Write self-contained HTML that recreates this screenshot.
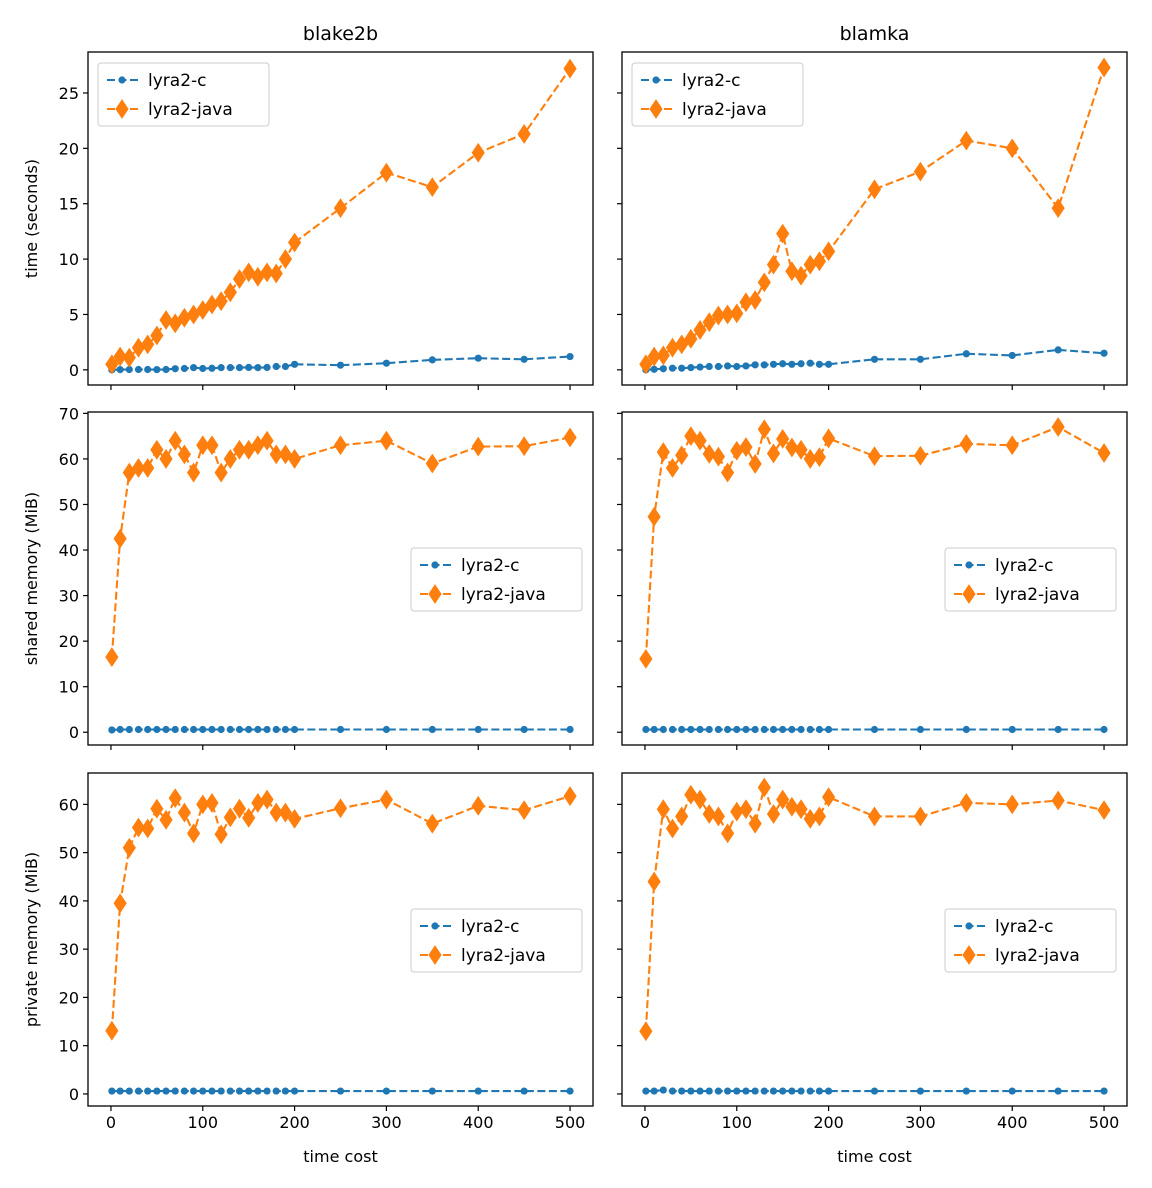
<!DOCTYPE html>
<html><head><meta charset="utf-8"><style>
body{margin:0;background:#fff}
svg{display:block;font-family:"DejaVu Sans","Liberation Sans",sans-serif}
</style></head><body>
<svg id="chart" width="1152" height="1188" viewBox="0 0 1152 1188" xmlns="http://www.w3.org/2000/svg"></svg>
<script>
const xs = [1,10,20,30,40,50,60,70,80,90,100,110,120,130,140,150,160,170,180,190,200,250,300,350,400,450,500];
const xTicks = [0,100,200,300,400,500];
const colTitles = ["blake2b","blamka"];
const rowLabels = ["time (seconds)","shared memory (MiB)","private memory (MiB)"];
const rowTicks = [[0,5,10,15,20,25],[0,10,20,30,40,50,60,70],[0,10,20,30,40,50,60]];
const rowRanges = [[-1.37,28.7],[-2.8,70.3],[-2.5,66.5]];
const timeBlakeC = [0,0.02,0.03,0.03,0.03,0.02,0.03,0.1,0.12,0.2,0.12,0.14,0.2,0.2,0.2,0.22,0.2,0.22,0.3,0.3,0.5,0.42,0.6,0.9,1.05,0.95,1.2];
const timeBlakeJ = [0.5,1.2,1.1,2.0,2.3,3.1,4.5,4.2,4.7,5.0,5.4,5.9,6.2,7.0,8.2,8.8,8.4,8.8,8.7,10.0,11.5,14.6,17.8,16.5,19.6,21.3,27.2];
const timeBlamC = [0,0.05,0.1,0.15,0.15,0.2,0.25,0.3,0.3,0.35,0.3,0.35,0.45,0.45,0.5,0.55,0.5,0.55,0.6,0.5,0.5,0.95,0.95,1.45,1.3,1.8,1.5];
const timeBlamJ = [0.5,1.2,1.3,2.0,2.3,2.8,3.6,4.3,4.9,5.0,5.1,6.1,6.3,7.9,9.5,12.3,8.9,8.5,9.5,9.8,10.7,16.3,17.9,20.7,20.0,14.6,27.3];
const shBlakeC = [0.5,0.6,0.6,0.6,0.6,0.6,0.6,0.6,0.6,0.6,0.6,0.6,0.6,0.6,0.6,0.6,0.6,0.6,0.6,0.6,0.6,0.6,0.6,0.6,0.6,0.6,0.6];
const shBlakeJ = [16.5,42.5,57,58,58,62,60,64,61,57,63,63,57,60,62,62,63,64,61,61,60,63,64,59,62.7,62.8,64.7];
const shBlamC = [0.6,0.6,0.6,0.6,0.6,0.6,0.6,0.6,0.6,0.6,0.6,0.6,0.6,0.6,0.6,0.6,0.6,0.6,0.6,0.6,0.6,0.6,0.6,0.6,0.6,0.6,0.6];
const shBlamJ = [16.1,47.3,61.5,58,60.8,65,64,61.1,60.5,57,61.8,62.6,58.9,66.5,61.2,64.4,62.5,62,60,60.4,64.5,60.6,60.7,63.3,63,67,61.3];
const prBlakeC = [0.6,0.6,0.6,0.6,0.6,0.6,0.6,0.6,0.6,0.6,0.6,0.6,0.6,0.6,0.6,0.6,0.6,0.6,0.6,0.6,0.6,0.6,0.6,0.6,0.6,0.6,0.6];
const prBlakeJ = [13.1,39.5,51,55.2,55,59.1,56.8,61.3,58.3,54,60,60.3,53.8,57.3,59.1,57.2,60.3,61,58.3,58.3,57,59.2,61,56,59.7,58.8,61.7];
const prBlamC = [0.6,0.6,0.8,0.6,0.6,0.6,0.6,0.6,0.6,0.6,0.6,0.6,0.6,0.6,0.6,0.6,0.6,0.6,0.6,0.6,0.6,0.6,0.6,0.6,0.6,0.6,0.6];
const prBlamJ = [13,44,59,55,57.5,62,61,58,57.5,54,58.5,59,56,63.5,58,61,59.5,59,57,57.5,61.5,57.5,57.5,60.3,60,60.8,58.8];

const panels = [
 [[timeBlakeC,timeBlakeJ],[timeBlamC,timeBlamJ]],
 [[shBlakeC,shBlakeJ],[shBlamC,shBlamJ]],
 [[prBlakeC,prBlakeJ],[prBlamC,prBlamJ]]
];
const colX=[88,622], W=505, rowY=[52,412,773], H=333;
const legendPos=[[10,11],[323,136],[323,136]];
const NS="http://www.w3.org/2000/svg";
const svg=document.getElementById('chart');
function mk(tag,attrs,parent,text){const e=document.createElementNS(NS,tag);for(const k in attrs)e.setAttribute(k,attrs[k]);if(text!==undefined)e.textContent=text;(parent||svg).appendChild(e);return e;}
const BLUE="#1f77b4",ORANGE="#ff7f0e";
function diamond(g,x,y){return mk('path',{d:`M${x},${y-9} L${x+6},${y} L${x},${y+9} L${x-6},${y} Z`,fill:ORANGE,stroke:ORANGE,'stroke-width':1},g);}

for(let r=0;r<3;r++){
 for(let c=0;c<2;c++){
  const x0=colX[c],y0=rowY[r];
  const [lo,hi]=rowRanges[r];
  const sx=v=>x0+(v+25)/550*W;
  const sy=v=>y0+H-(v-lo)/(hi-lo)*H;
  const g=mk('g',{},svg);
  
  
  mk('rect',{x:x0,y:y0,width:W,height:H,fill:'#fff'},g);
  for(const t of xTicks){
   const tx=sx(t);
   const tk=mk('line',{x1:tx,x2:tx,y1:y0+H,y2:y0+H+5,stroke:'#000','stroke-width':1.2},g);
   
   
   if(r===2){const lb=mk('text',{x:tx,y:y0+H+22,'text-anchor':'middle','font-size':16,fill:'#000'},g,String(t));
    
    }
  }
  for(const t of rowTicks[r]){
   const ty=sy(t);
   mk('line',{x1:x0-5,x2:x0,y1:ty,y2:ty,stroke:'#000','stroke-width':1.2},g);
   if(c===0){const lb=mk('text',{x:x0-9,y:ty+6,'text-anchor':'end','font-size':16,fill:'#000'},g,String(t));
    
    }
  }
  const [cs,js]=panels[r][c];
  const lc=mk('polyline',{points:xs.map((x,i)=>sx(x)+','+sy(cs[i])).join(' '),fill:'none',stroke:BLUE,'stroke-width':2.1,'stroke-dasharray':'8,3.5'},g);
  
  
  xs.forEach((x,i)=>{const p=mk('circle',{cx:sx(x),cy:sy(cs[i]),r:3.6,fill:BLUE},g);
   
   });
  const lj=mk('polyline',{points:xs.map((x,i)=>sx(x)+','+sy(js[i])).join(' '),fill:'none',stroke:ORANGE,'stroke-width':2.1,'stroke-dasharray':'8,3.5'},g);
  
  
  xs.forEach((x,i)=>{const p=diamond(g,sx(x),sy(js[i]));
   
   });
  mk('rect',{x:x0,y:y0,width:W,height:H,fill:'none',stroke:'#000','stroke-width':1.3},g);
  const lx=x0+legendPos[r][0], ly=y0+legendPos[r][1];
  const lg=mk('g',{},g);
  
  
  mk('rect',{x:lx,y:ly,width:171,height:63,rx:3,fill:'#fff','fill-opacity':0.8,stroke:'#ccc','stroke-width':1},lg);
  mk('line',{x1:lx+9,x2:lx+40,y1:ly+17,y2:ly+17,stroke:BLUE,'stroke-width':2.1,'stroke-dasharray':'8,3.5'},lg);
  mk('circle',{cx:lx+24,cy:ly+17,r:3.6,fill:BLUE},lg);
  mk('text',{x:lx+50,y:ly+23,'font-size':17,fill:'#000'},lg,'lyra2-c');
  mk('line',{x1:lx+9,x2:lx+40,y1:ly+46,y2:ly+46,stroke:ORANGE,'stroke-width':2.1,'stroke-dasharray':'8,3.5'},lg);
  diamond(lg,lx+24,ly+46);
  mk('text',{x:lx+50,y:ly+52,'font-size':17,fill:'#000'},lg,'lyra2-java');
 }
 const yl=mk('text',{x:0,y:0,'font-size':16,'text-anchor':'middle',fill:'#000',transform:`translate(37,${rowY[r]+H/2}) rotate(-90)`},svg,rowLabels[r]);
 
 
}
for(let c=0;c<2;c++){
 const t=mk('text',{x:colX[c]+W/2,y:40,'font-size':19,'text-anchor':'middle',fill:'#000'},svg,colTitles[c]);
 
 
 const xl=mk('text',{x:colX[c]+W/2,y:1162,'font-size':16,'text-anchor':'middle',fill:'#000'},svg,'time cost');
 
 
}
</script>
</body></html>
